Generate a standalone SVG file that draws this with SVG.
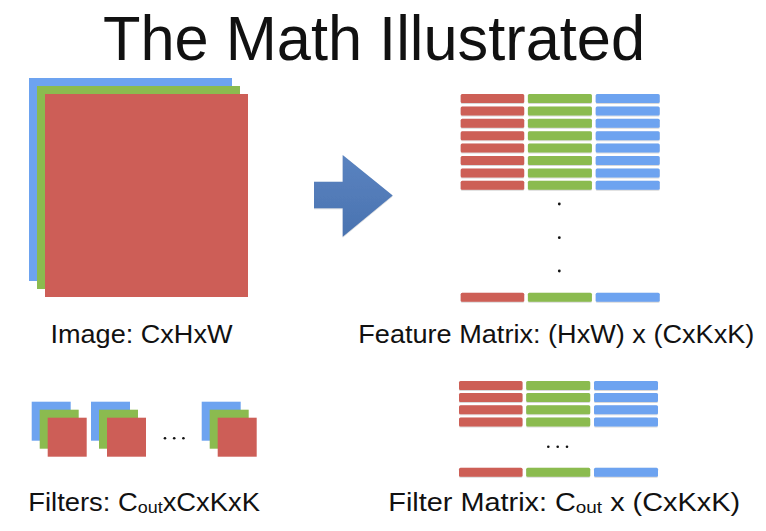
<svg xmlns="http://www.w3.org/2000/svg" width="766" height="531" viewBox="0 0 766 531">
<style>
.t{font-family:"Liberation Sans","Helvetica Neue",Arial,sans-serif;fill:#111}
.r{fill:#CD5E57}
.g{fill:#8BBB4F}
.b{fill:#6DA3F0}
.bar{filter:url(#sh)}
</style>
<defs>
<filter id="sh" x="-10%" y="-40%" width="120%" height="180%">
<feDropShadow dx="0" dy="0.6" stdDeviation="0.6" flood-color="#000" flood-opacity="0.25"/>
</filter>
<linearGradient id="ag" x1="0" y1="0" x2="0" y2="1">
<stop offset="0" stop-color="#5A83C0"/>
<stop offset="1" stop-color="#4A73B0"/>
</linearGradient>
<g id="stk">
<rect class="b" x="0" y="0" width="39" height="39"/>
<rect class="g" x="8" y="8" width="39" height="39"/>
<rect class="r" x="16" y="16" width="39" height="39"/>
</g>
<g id="row">
<rect class="r bar" x="0" y="0" width="63.5" height="9" rx="1.5"/>
<rect class="g bar" x="67.2" y="0" width="64" height="9" rx="1.5"/>
<rect class="b bar" x="135" y="0" width="64" height="9" rx="1.5"/>
</g>
</defs>
<rect width="766" height="531" fill="#fff"/>
<g id="title"><text class="t" x="103" y="60" font-size="63" textLength="542" lengthAdjust="spacingAndGlyphs">The Math Illustrated</text></g>
<g id="image">
<rect class="b" x="29" y="78" width="203" height="203"/>
<rect class="g" x="37" y="86" width="203" height="203"/>
<rect class="r" x="45" y="94" width="203" height="203"/>
<text class="t" x="50.5" y="343" font-size="26" textLength="182" lengthAdjust="spacingAndGlyphs">Image: CxHxW</text>
</g>
<g id="connectors">
<path d="M314,181.7 H342.7 V155 L392.7,195.5 L342.7,236.7 V208.3 H314 Z" fill="url(#ag)" style="filter:url(#sh)"/>
</g>
<g id="feature-matrix">
<use href="#row" x="460.7" y="94"/>
<use href="#row" x="460.7" y="106.4"/>
<use href="#row" x="460.7" y="118.8"/>
<use href="#row" x="460.7" y="131.2"/>
<use href="#row" x="460.7" y="143.6"/>
<use href="#row" x="460.7" y="156"/>
<use href="#row" x="460.7" y="168.4"/>
<use href="#row" x="460.7" y="180.8"/>
<circle cx="559.3" cy="204" r="1.4" fill="#111"/>
<circle cx="559.3" cy="237.7" r="1.4" fill="#111"/>
<circle cx="559.3" cy="271" r="1.4" fill="#111"/>
<use href="#row" x="460.7" y="292.8"/>
<text class="t" x="358.3" y="343" font-size="26" textLength="396" lengthAdjust="spacingAndGlyphs">Feature Matrix: (HxW) x (CxKxK)</text>
</g>
<g id="filters">
<use href="#stk" x="31.7" y="401.7"/>
<use href="#stk" x="91" y="401.7"/>
<use href="#stk" x="201.7" y="401.7"/>
<circle cx="165" cy="438.3" r="1.3" fill="#111"/>
<circle cx="174.2" cy="438.3" r="1.3" fill="#111"/>
<circle cx="183.4" cy="438.3" r="1.3" fill="#111"/>
<text class="t" x="28.3" y="510.7" font-size="26" textLength="231.7" lengthAdjust="spacingAndGlyphs">Filters: C<tspan font-size="17" dy="2">out</tspan><tspan dy="-2">xCxKxK</tspan></text>
</g>
<g id="filter-matrix">
<use href="#row" x="459" y="381"/>
<use href="#row" x="459" y="393"/>
<use href="#row" x="459" y="405.2"/>
<use href="#row" x="459" y="417.5"/>
<circle cx="548.3" cy="446.7" r="1.3" fill="#111"/>
<circle cx="557.7" cy="446.7" r="1.3" fill="#111"/>
<circle cx="567" cy="446.7" r="1.3" fill="#111"/>
<use href="#row" x="459" y="467.8"/>
<text class="t" x="388.3" y="510.5" font-size="26" textLength="351.7" lengthAdjust="spacingAndGlyphs">Filter Matrix: C<tspan font-size="17" dy="2">out</tspan><tspan dy="-2"> x (CxKxK)</tspan></text>
</g>
</svg>
